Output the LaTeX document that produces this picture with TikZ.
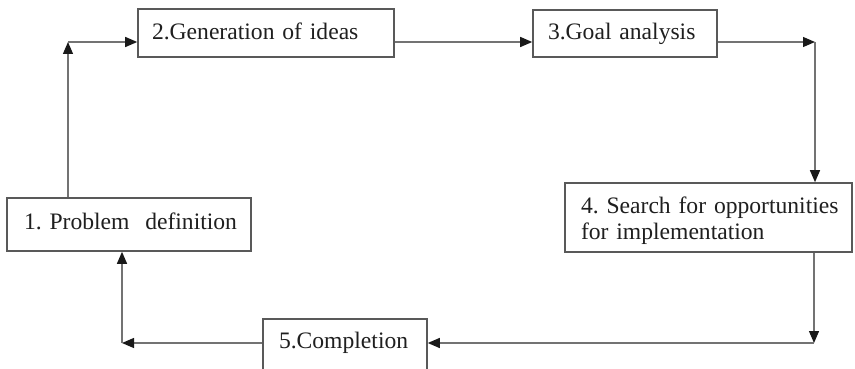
\documentclass[tikz,border=0pt]{standalone}
\usepackage{fontspec}
\setmainfont{Liberation Serif}
\usetikzlibrary{arrows.meta}
\frenchspacing
\begin{document}
\begin{tikzpicture}[x=1pt,y=-1pt,
  stage/.style={draw=black!65, line width=1.6pt, fill=white, rectangle,
    align=left, inner ysep=0pt,
    font=\fontsize{23.6}{26.5}\selectfont, text=black!88},
  link/.style={draw=black!55, line width=1.3pt,
    -{Triangle[length=12pt,width=10pt,color=black!90]}}
]
\useasboundingbox (0,0) rectangle (855,369);

% process stages
\node[stage, minimum width=244pt, minimum height=53pt, inner xsep=17pt,
      text width=210pt, text height=16pt, text depth=6.4pt]
  (s1) at (129,224.5) {\mbox{1. Problem\ \ definition}};
\node[stage, minimum width=256pt, minimum height=48pt, inner xsep=14pt,
      text width=228pt, text height=16pt, text depth=3.4pt]
  (s2) at (266,33) {\mbox{2.Generation of ideas}};
\node[stage, minimum width=184pt, minimum height=47pt, inner xsep=15pt,
      text width=154pt, text height=16pt, text depth=3pt]
  (s3) at (625,33.5) {\mbox{3.Goal analysis}};
\node[stage, minimum width=287pt, minimum height=69pt, inner xsep=16pt,
      text width=255pt, text height=16pt, text depth=25pt]
  (s4) at (708.5,217.5) {\mbox{4. Search for opportunities}\\\mbox{for implementation}};
\node[stage, minimum width=164pt, minimum height=56pt, inner xsep=16pt,
      text width=132pt, text height=16pt, text depth=14pt]
  (s5) at (345,347) {\mbox{5.Completion}};

% corner points of the loop
\coordinate (c1) at (68,42);
\coordinate (c3) at (815,42);
\coordinate (c4) at (814,343);
\coordinate (c5) at (122,343);

% connectors
\draw[link] (s1.north -| c1) -- (c1);
\draw[link] (c1) -- (c1 -| s2.west);
\draw[link] (s2.east |- c1) -- (c1 -| s3.west);
\draw[link] (s3.east |- c3) -- (c3);
\draw[link] (c3) -- (c3 |- s4.north);
\draw[link] (s4.south -| c4) -- (c4);
\draw[link] (c4) -- (c4 -| s5.east);
\draw[link] (s5.west |- c5) -- (c5);
\draw[link] (c5) -- (c5 |- s1.south);
\end{tikzpicture}
\end{document}
